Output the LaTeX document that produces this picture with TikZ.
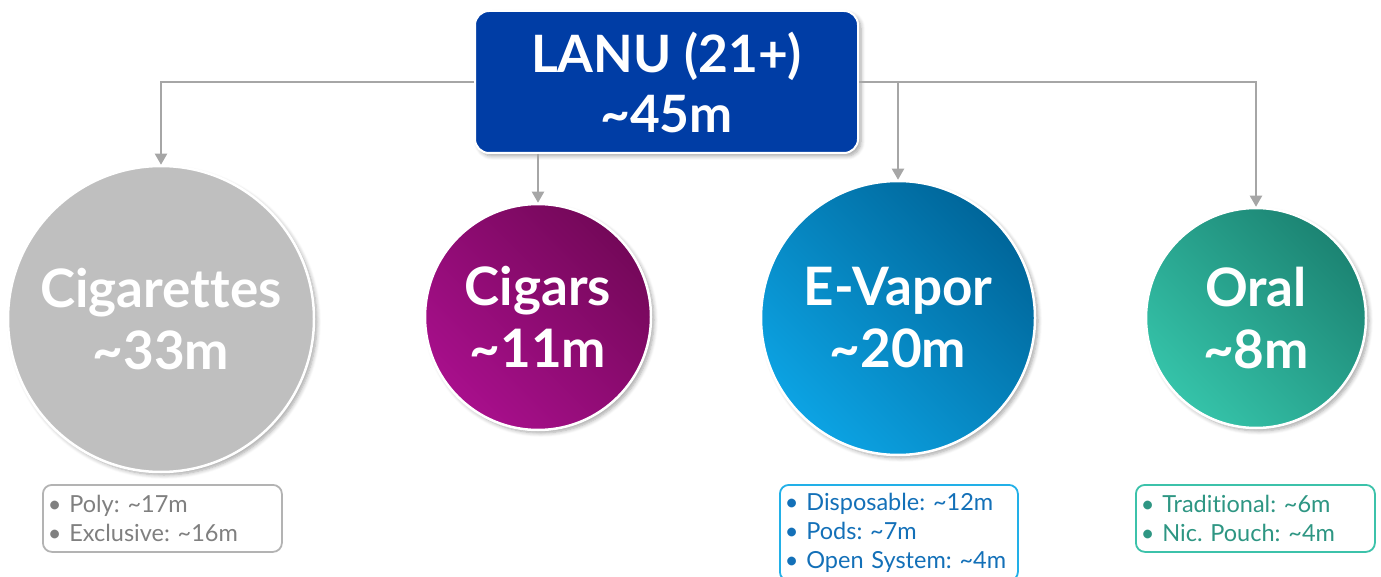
\documentclass[tikz,border=0pt]{standalone}
\usepackage{fontspec}
\setmainfont{Lato}[Ligatures=NoCommon]
\usetikzlibrary{arrows.meta,shadows.blur,calc}
\definecolor{topblue}{HTML}{003DA5}
\definecolor{connc}{HTML}{A6A6A6}
\definecolor{cigc}{HTML}{BFBFBF}
\definecolor{cigarL}{HTML}{A80F8C}
\definecolor{cigarR}{HTML}{740859}
\definecolor{vapL}{HTML}{0CA3E3}
\definecolor{vapR}{HTML}{00669A}
\definecolor{oralL}{HTML}{35C3A9}
\definecolor{oralR}{HTML}{1C8473}
\definecolor{graytxt}{HTML}{808080}
\definecolor{grayline}{HTML}{B3B3B3}
\definecolor{bluetxt}{HTML}{1370B8}
\definecolor{blueline}{HTML}{22B0E8}
\definecolor{tealtxt}{HTML}{2E9683}
\definecolor{tealline}{HTML}{3CC2AA}
\frenchspacing
\begin{document}
\begin{tikzpicture}[x=1pt,y=-1pt,
  conn/.style={draw=connc, line width=2pt, -{Triangle[width=12pt,length=11pt]}},
  bubble/.style={circle, inner sep=0pt, draw=white, line width=2.5pt, text=white,
     align=center, font=\bfseries\fontsize{53}{62}\selectfont,
     blur shadow={shadow xshift=3pt, shadow yshift=-3pt, shadow opacity=35, shadow blur steps=6, shadow blur radius=4pt}},
  headbox/.style={rectangle, rounded corners=14pt, fill=topblue, draw=white, line width=2pt,
     text=white, align=center, font=\bfseries\fontsize{51.5}{60}\selectfont,
     minimum width=383pt, minimum height=142pt, inner sep=0pt,
     blur shadow={shadow xshift=3pt, shadow yshift=-3pt, shadow opacity=35, shadow blur steps=6, shadow blur radius=4pt}},
  listbox/.style={rectangle, rounded corners=9pt, line width=1.8pt, fill=white,
     anchor=north west, align=left, inner xsep=5pt, inner ysep=0pt,
     font=\fontsize{23.5}{29}\selectfont}
]
\useasboundingbox (0,0) rectangle (1381,577);
\clip (0,0) rectangle (1381,577);

\node[headbox] (top) at (666.5,82) {LANU (21+)\\\textasciitilde45m};

\node[bubble, fill=cigc, minimum size=306pt] (cig) at (161,319) {Cigarettes\\\textasciitilde33m};
\node[bubble, minimum size=226pt, left color=cigarL, right color=cigarR, shading angle=135] (cigars) at (538,317) {Cigars\\\textasciitilde11m};
\node[bubble, minimum size=274pt, left color=vapL, right color=vapR, shading angle=135] (evap) at (898,318) {E-Vapor\\\textasciitilde20m};
\node[bubble, minimum size=220pt, left color=oralL, right color=oralR, shading angle=135] (oral) at (1256,318) {Oral\\\textasciitilde8m};

\draw[conn] (top.west) -| (cig.north);
\draw[conn] (top.east) -| (evap.north);
\draw[conn] (top.east) -| (oral.north);
\draw[conn] (top.south -| cigars.north) -- (cigars.north);

\node[listbox, draw=grayline, text=graytxt, minimum width=239pt, minimum height=67pt, text width=229pt] (cigl) at (42,484)
  {• Poly: \textasciitilde17m\\• Exclusive: \textasciitilde16m};
\node[listbox, draw=blueline, text=bluetxt, minimum width=238pt, minimum height=96pt, text width=228pt] (evapl) at (779,484)
  {• Disposable: \textasciitilde12m\\• Pods: \textasciitilde7m\\• Open System: \textasciitilde4m};
\node[listbox, draw=tealline, text=tealtxt, minimum width=239pt, minimum height=67pt, text width=229pt] (orall) at (1135,484)
  {• Traditional: \textasciitilde6m\\• Nic. Pouch: \textasciitilde4m};
\end{tikzpicture}
\end{document}
